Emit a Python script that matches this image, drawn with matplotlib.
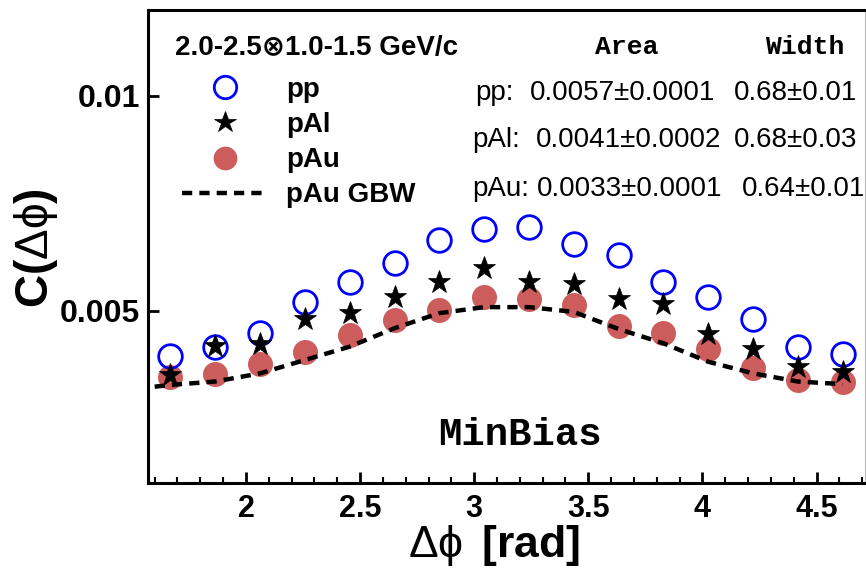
import numpy as np
import matplotlib
matplotlib.use("Agg")
import matplotlib.pyplot as plt
from matplotlib.ticker import MultipleLocator, FixedLocator

plt.rcParams['font.family'] = ['Liberation Sans', 'DejaVu Sans']
plt.rcParams['mathtext.fontset'] = 'custom'
plt.rcParams['mathtext.rm'] = 'Liberation Sans'
plt.rcParams['mathtext.it'] = 'Liberation Sans:italic'
plt.rcParams['mathtext.bf'] = 'Liberation Sans:bold'

# ---- data ----
dphi = [1.669, 1.865, 2.062, 2.258, 2.454, 2.651, 2.847, 3.043,
        3.240, 3.436, 3.633, 3.829, 4.025, 4.222, 4.418, 4.614]
pp = [0.00396, 0.00417, 0.00450, 0.00522, 0.00567, 0.00612, 0.00665, 0.00690,
      0.00695, 0.00655, 0.00630, 0.00567, 0.00533, 0.00481, 0.00417, 0.00399]
pAl = [0.00351, 0.00419, 0.00423, 0.00481, 0.00495, 0.00533, 0.00568, 0.00601,
       0.00568, 0.00563, 0.00528, 0.00516, 0.00447, 0.00412, 0.00370, 0.00359]
pAu = [0.00347, 0.00353, 0.00377, 0.00404, 0.00444, 0.00479, 0.00502, 0.00533,
       0.00527, 0.00514, 0.00465, 0.00450, 0.00411, 0.00368, 0.00340, 0.00334]
gbw_x = [1.600, 1.669, 1.865, 2.062, 2.258, 2.454, 2.651, 2.847, 3.043,
         3.240, 3.436, 3.633, 3.829, 4.025, 4.222, 4.418, 4.614]
gbw_y = [0.00324, 0.00328, 0.00336, 0.00355, 0.00386, 0.00417, 0.00460, 0.00495, 0.00509,
         0.00509, 0.00498, 0.00458, 0.00425, 0.00382, 0.00355, 0.00336, 0.00330]

series_names = ['pp', 'pAl', 'pAu', 'pAu GBW']
stat_labels = ['pp:', 'pAl:', 'pAu:']
stat_area = ['0.0057\u00b10.0001', '0.0041\u00b10.0002', '0.0033\u00b10.0001']
stat_width = ['0.68\u00b10.01', '0.68\u00b10.03', '0.64\u00b10.01']
xticks = [2, 2.5, 3, 3.5, 4, 4.5]
xticklabels = ['2', '2.5', '3', '3.5', '4', '4.5']
yticks = [0.005, 0.01]
yticklabels = ['0.005', '0.01']

W, H = 866, 570
fig = plt.figure(figsize=(W / 100, H / 100), dpi=100)

def fx(px):
    return px / W

def fy(py):
    return 1 - py / H

ax = fig.add_axes([fx(148), fy(483), fx(865) - fx(148), fy(10) - fy(483)])
ax.set_xlim(np.pi / 2, 3 * np.pi / 2)
ax.set_ylim(0.001, 0.012)

red = '#CD5C5C'
l_pp, = ax.plot(dphi, pp, linestyle='none', marker='o', ms=17, mfc='none',
                mec='#0000FF', mew=2.0, label=series_names[0], zorder=3)
l_al, = ax.plot(dphi, pAl, linestyle='none', marker='*', ms=17, mfc='black',
                mec='black', mew=0.5, label=series_names[1], zorder=5)
l_au, = ax.plot(dphi, pAu, linestyle='none', marker='o', ms=18, mfc=red,
                mec=red, mew=0, label=series_names[2], zorder=2)
l_gbw, = ax.plot(gbw_x, gbw_y, color='black', lw=3.2, linestyle=(0, (2.3, 1.6)),
                 label=series_names[3], zorder=4)

# spines / ticks
for s in ['left', 'bottom', 'top']:
    ax.spines[s].set_linewidth(2.2)
ax.spines['right'].set_linewidth(0.8)
ax.spines['right'].set_color('#bbbbbb')

ax.xaxis.set_major_locator(FixedLocator(xticks))
ax.set_xticklabels(xticklabels)
ax.xaxis.set_minor_locator(MultipleLocator(0.1))
ax.yaxis.set_major_locator(FixedLocator(yticks))
ax.set_yticklabels(yticklabels)
ax.tick_params(axis='both', which='major', direction='in', length=8, width=2)
ax.tick_params(axis='both', which='minor', direction='in', length=4.5, width=1.5)
ax.tick_params(axis='x', which='major', pad=8, labelsize=22)
ax.tick_params(axis='y', which='major', pad=6, labelsize=23)
for lab in ax.get_xticklabels() + ax.get_yticklabels():
    lab.set_fontweight('bold')

# axis titles
fig.text(fx(494), fy(545), r'$\mathrm{\Delta\phi}\ \,\mathbf{[rad]}$', fontsize=32,
         ha='center', va='center')
fig.text(fx(36), fy(248), r'$\mathbf{C(}\mathrm{\Delta\phi}\mathbf{)}$', fontsize=33,
         ha='center', va='center', rotation=90)

# header
fig.text(fx(175), fy(48), '2.0-2.5\u22971.0-1.5 GeV/c', fontsize=20, fontweight='bold',
         ha='left', va='center', family=['Liberation Sans', 'DejaVu Sans'])

# legend
leg = ax.legend(handles=[l_pp, l_al, l_au, l_gbw], loc='upper left',
                bbox_to_anchor=(fx(182), fy(77)), bbox_transform=fig.transFigure,
                frameon=False, borderpad=0, borderaxespad=0, numpoints=1,
                handlelength=3.1, handletextpad=0.65, labelspacing=0.33,
                prop={'size': 20, 'weight': 'bold'})
for h in leg.legend_handles[:3]:
    h.set_markersize(h.get_markersize() * 0.95)

# stats block
mono = 'Liberation Mono'
fig.text(fx(627), fy(47), 'Area', fontsize=19, fontweight='bold', family=mono,
         ha='center', va='center')
fig.text(fx(805), fy(47), 'Width', fontsize=19, fontweight='bold', family=mono,
         ha='center', va='center')
rows_y = [93, 140, 189]
lab_x = [475, 472, 472]
area_x = [530, 536, 537]
width_x = [734, 734, 742]
for i in range(3):
    fig.text(fx(lab_x[i]), fy(rows_y[i]), stat_labels[i], fontsize=20, ha='left', va='center')
    fig.text(fx(area_x[i]), fy(rows_y[i]), stat_area[i], fontsize=20, ha='left', va='center')
    fig.text(fx(width_x[i]), fy(rows_y[i]), stat_width[i], fontsize=20, ha='left', va='center')

fig.text(fx(520), fy(435), 'MinBias', fontsize=28, fontweight='bold', family=mono,
         ha='center', va='center')

fig.savefig('out.png', dpi=100)
